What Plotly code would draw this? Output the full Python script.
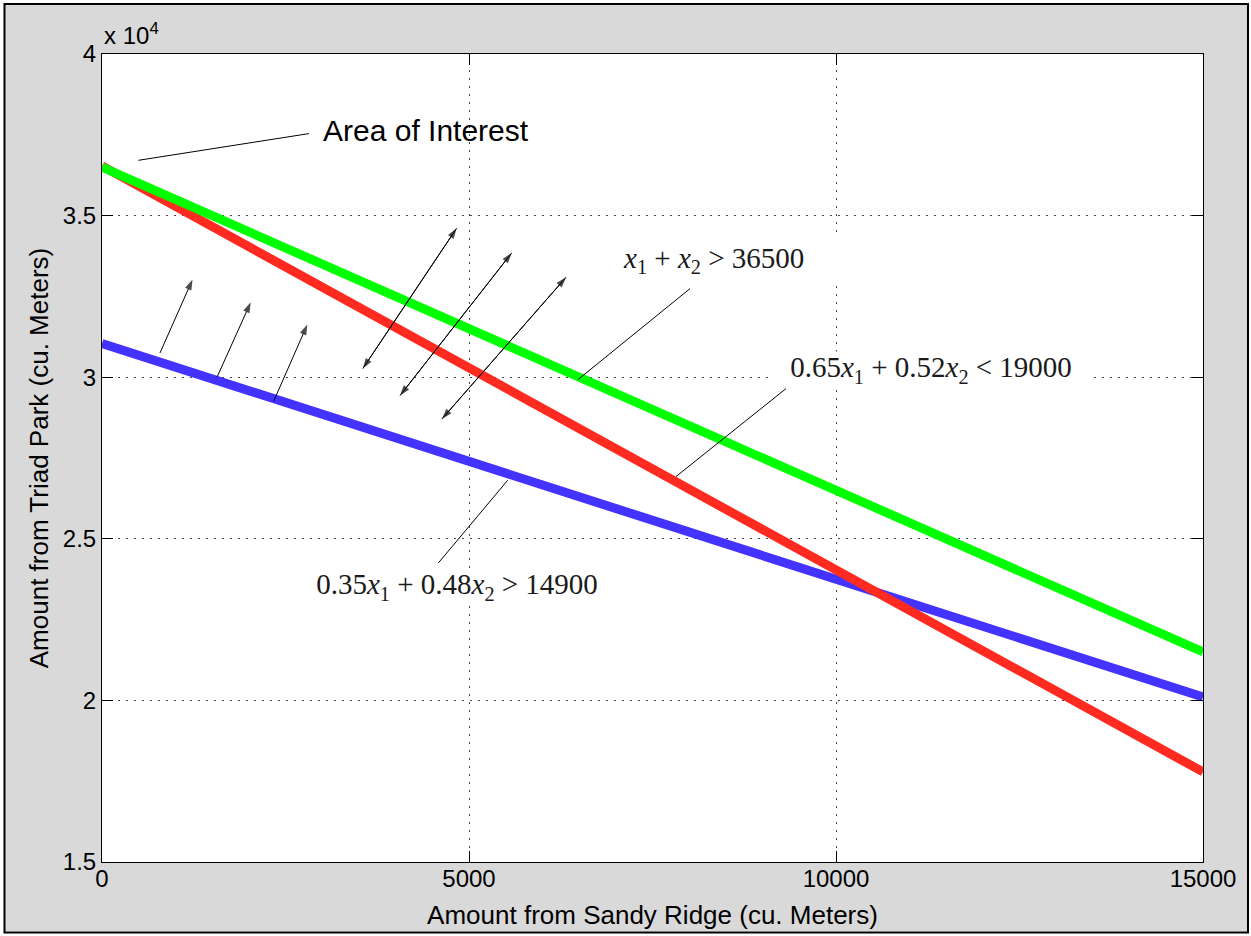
import plotly.graph_objects as go

# ---- data ----
x_range_pts = [0, 15000]                 # Amount from Sandy Ridge
green_y = [36500, 21500]                 # x1 + x2 = 36500
red_y = [36538, 17788]                   # 0.65x1 + 0.52x2 = 19000
blue_y = [31042, 20104]                  # 0.35x1 + 0.48x2 = 14900

x_ticks = [0, 5000, 10000, 15000]
x_ticktext = ["0", "5000", "10000", "15000"]
y_ticks = [15000, 20000, 25000, 30000, 35000, 40000]
y_ticktext = ["1.5", "2", "2.5", "3", "3.5", "4"]

# single-headed arrows (tail -> head), data units
single_arrows = [
    ((790, 30750), (1233, 33020)),
    ((1567, 30000), (2026, 32317)),
    ((2338, 29254), (2797, 31627)),
]
# double-headed arrows
double_arrows = [
    ((3553, 30266), (4831, 34607)),
    ((4060, 29431), (5582, 33846)),
    ((4632, 28710), (6322, 33091)),
]
# pointer lines (no heads)
pointer_lines = [
    ((497, 36711), (2820, 37537)),      # Area of Interest
    ((6485, 29926), (8011, 32741)),     # x1 + x2
    ((7820, 26925), (9319, 29647)),     # 0.65 ...
    ((5527, 26810), (4582, 24251)),     # 0.35 ...
]

FONT = "Liberation Sans, Arial, Helvetica, sans-serif"
SERIF = "Liberation Serif, Times New Roman, serif"

fig = go.Figure()

for y, col in [(blue_y, "#4433FF"), (red_y, "#FF2A20"), (green_y, "#00FF00")]:
    fig.add_trace(go.Scatter(x=x_range_pts, y=y, mode="lines",
                             line=dict(color=col, width=9),
                             hoverinfo="skip", showlegend=False))

def arrow_trace(p0, p1):
    return go.Scatter(x=[p0[0], p1[0]], y=[p0[1], p1[1]], mode="lines+markers",
                      line=dict(color="black", width=1),
                      marker=dict(symbol="arrow", size=[0, 11], color="black",
                                  angleref="previous", line=dict(width=0)),
                      hoverinfo="skip", showlegend=False, cliponaxis=False)

for t, h in single_arrows:
    fig.add_trace(arrow_trace(t, h))
for a, b in double_arrows:
    fig.add_trace(arrow_trace(a, b))
    fig.add_trace(arrow_trace(b, a))

shapes = []
for p0, p1 in pointer_lines:
    shapes.append(dict(type="line", xref="x", yref="y", x0=p0[0], y0=p0[1],
                       x1=p1[0], y1=p1[1], line=dict(color="black", width=1)))
# white page margin and black frame around the figure
shapes.append(dict(type="rect", xref="paper", yref="paper",
                   x0=-0.09264, x1=1.04360, y0=-0.09109, y1=1.06733,
                   line=dict(color="white", width=8), layer="above"))
shapes.append(dict(type="rect", xref="paper", yref="paper",
                   x0=-0.08856, x1=1.04087, y0=-0.08738, y1=1.06176,
                   line=dict(color="black", width=2), layer="above"))

annotations = [
    dict(text="x 10<sup>4</sup>", xref="paper", yref="paper", x=0.0, y=1.004,
         xanchor="left", yanchor="bottom", showarrow=False,
         font=dict(family=FONT, size=24, color="black")),
    dict(text="Area of Interest", xref="x", yref="y", x=2984, y=37630,
         xanchor="left", yanchor="middle", showarrow=False,
         font=dict(family=FONT, size=30, color="black")),
    dict(text="<i>x</i><sub>1</sub> + <i>x</i><sub>2</sub> &gt; 36500",
         xref="x", yref="y", x=7085, y=33639, xanchor="left", yanchor="middle",
         width=225, height=50, align="left", valign="middle",
         bgcolor="white", borderpad=0, showarrow=False,
         font=dict(family=SERIF, size=29, color="#1a1a1a")),
    dict(text="0.65<i>x</i><sub>1</sub> + 0.52<i>x</i><sub>2</sub> &lt; 19000",
         xref="x", yref="y", x=11294, y=30251, xanchor="center", yanchor="middle",
         width=318, height=35, align="center", valign="middle",
         bgcolor="white", borderpad=0, showarrow=False,
         font=dict(family=SERIF, size=29, color="#1a1a1a")),
    dict(text="0.35<i>x</i><sub>1</sub> + 0.48<i>x</i><sub>2</sub> &gt; 14900",
         xref="x", yref="y", x=4830, y=23536, xanchor="center", yanchor="middle",
         width=312, height=33, align="center", valign="middle",
         bgcolor="white", borderpad=0, showarrow=False,
         font=dict(family=SERIF, size=29, color="#1a1a1a")),
]

axis_common = dict(
    showline=True, linecolor="black", linewidth=1, mirror="ticks",
    ticks="inside", ticklen=11, tickcolor="black", tickwidth=1,
    showgrid=True, gridcolor="#444444", gridwidth=1, griddash="2px,6px",
    zeroline=False, tickfont=dict(family=FONT, size=24, color="black"),
)

fig.update_layout(
    width=1251, height=936,
    margin=dict(l=102, r=48, t=54, b=74, autoexpand=False),
    paper_bgcolor="#D9D9D9", plot_bgcolor="white",
    xaxis=dict(range=[0, 15000], tickvals=x_ticks, ticktext=x_ticktext,
               ticklabelstandoff=-5,
               title=dict(text="Amount from Sandy Ridge (cu. Meters)", standoff=15,
                          font=dict(family=FONT, size=26, color="black")),
               **axis_common),
    yaxis=dict(range=[15000, 40000], tickvals=y_ticks, ticktext=y_ticktext,
               title=dict(text="Amount from Triad Park (cu. Meters)", standoff=6,
                          font=dict(family=FONT, size=26, color="black")),
               **axis_common),
    shapes=shapes, annotations=annotations, showlegend=False,
)

fig.write_html("out.html")
